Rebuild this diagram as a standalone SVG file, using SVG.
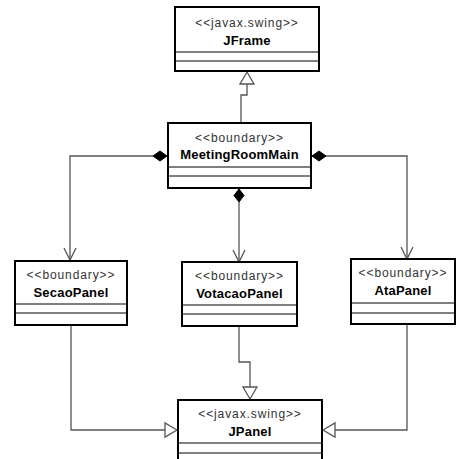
<svg xmlns="http://www.w3.org/2000/svg" width="457" height="459" viewBox="0 0 457 459">
<style>
.box{fill:#fff;stroke:#000;stroke-width:2}
.sep{stroke:#000;stroke-width:1}
.st{font-family:"Liberation Sans",Arial,sans-serif;font-size:12px;letter-spacing:0.9px;fill:#333;text-anchor:middle}
.nm{font-family:"Liberation Sans",Arial,sans-serif;font-size:13px;letter-spacing:0.2px;font-weight:bold;fill:#000;text-anchor:middle}
.ln{fill:none;stroke:#555;stroke-width:1.3}
.gen{fill:#fff;stroke:#555;stroke-width:1.3}
.dia{fill:#000;stroke:#000;stroke-width:1}
</style>
<rect width="457" height="459" fill="#fff"/>
<g id="connectors">
  <path class="ln" d="M241,122 V95 H247 V84"/>
  <polygon class="gen" points="247,72 240,84 254,84"/>
  <path class="ln" d="M153,156 H70 V260"/>
  <polyline class="ln" points="64,248 70,260 76,248"/>
  <polygon class="dia" points="167,156 160,151 153,156 160,161"/>
  <path class="ln" d="M239,202 V262"/>
  <polyline class="ln" points="233,250 239,262 245,250"/>
  <polygon class="dia" points="239,189 234,195.5 239,202 244,195.5"/>
  <path class="ln" d="M326,156 H407 V259"/>
  <polyline class="ln" points="401,247 407,259 413,247"/>
  <polygon class="dia" points="312,156 319,151 326,156 319,161"/>
  <path class="ln" d="M71,325 V430 H165"/>
  <polygon class="gen" points="177,430 165,423 165,437"/>
  <path class="ln" d="M239,326 V362 H250 V387"/>
  <polygon class="gen" points="250,399 243,387 257,387"/>
  <path class="ln" d="M407,324 V430 H335"/>
  <polygon class="gen" points="323,430 335,423 335,437"/>
</g>
<g id="JFrame">
  <rect class="box" x="175" y="7" width="144" height="64"/>
  <line class="sep" x1="175" y1="52" x2="319" y2="52"/>
  <line class="sep" x1="175" y1="61" x2="319" y2="61"/>
  <text class="st" x="247" y="27">&lt;&lt;javax.swing&gt;&gt;</text>
  <text class="nm" x="247" y="45">JFrame</text>
</g>
<g id="MeetingRoomMain">
  <rect class="box" x="168" y="123" width="143" height="65"/>
  <line class="sep" x1="168" y1="167" x2="311" y2="167"/>
  <line class="sep" x1="168" y1="176" x2="311" y2="176"/>
  <text class="st" x="239.5" y="142">&lt;&lt;boundary&gt;&gt;</text>
  <text class="nm" x="239.5" y="159">MeetingRoomMain</text>
</g>
<g id="SecaoPanel">
  <rect class="box" x="15" y="261" width="112" height="64"/>
  <line class="sep" x1="15" y1="304" x2="127" y2="304"/>
  <line class="sep" x1="15" y1="313" x2="127" y2="313"/>
  <text class="st" x="71" y="279">&lt;&lt;boundary&gt;&gt;</text>
  <text class="nm" x="71" y="297">SecaoPanel</text>
</g>
<g id="VotacaoPanel">
  <rect class="box" x="182" y="262" width="115" height="64"/>
  <line class="sep" x1="182" y1="305" x2="297" y2="305"/>
  <line class="sep" x1="182" y1="314" x2="297" y2="314"/>
  <text class="st" x="239.5" y="280">&lt;&lt;boundary&gt;&gt;</text>
  <text class="nm" x="239.5" y="298">VotacaoPanel</text>
</g>
<g id="AtaPanel">
  <rect class="box" x="351" y="259" width="104" height="65"/>
  <line class="sep" x1="351" y1="303" x2="455" y2="303"/>
  <line class="sep" x1="351" y1="313" x2="455" y2="313"/>
  <text class="st" x="403" y="277">&lt;&lt;boundary&gt;&gt;</text>
  <text class="nm" x="403" y="295">AtaPanel</text>
</g>
<g id="JPanel">
  <rect class="box" x="178" y="400" width="144" height="64"/>
  <line class="sep" x1="178" y1="443" x2="322" y2="443"/>
  <line class="sep" x1="178" y1="453" x2="322" y2="453"/>
  <text class="st" x="250" y="418">&lt;&lt;javax.swing&gt;&gt;</text>
  <text class="nm" x="250" y="436">JPanel</text>
</g>
</svg>
